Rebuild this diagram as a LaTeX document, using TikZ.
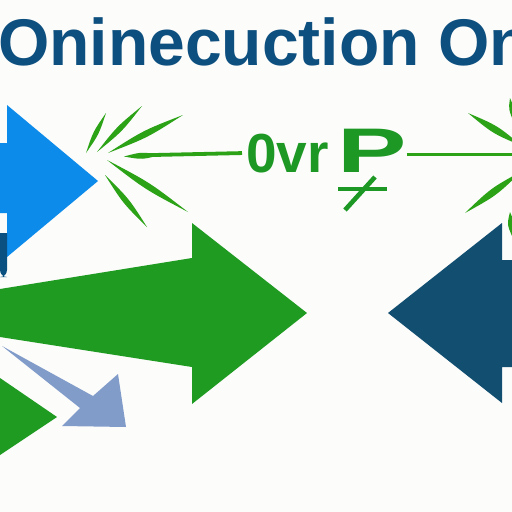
\documentclass[tikz,border=0pt]{standalone}
\usepackage{fontspec}
\setmainfont{Liberation Sans}
\usetikzlibrary{calc}

\definecolor{titleblue}{RGB}{13,79,126}
\definecolor{skyblue}{RGB}{12,139,234}
\definecolor{deepblue}{RGB}{10,80,128}
\definecolor{arrowgreen}{RGB}{31,155,34}
\definecolor{sparkgreen}{RGB}{44,163,22}
\definecolor{labelgreen}{RGB}{30,152,36}
\definecolor{steelblue}{RGB}{130,156,202}
\definecolor{navyblue}{RGB}{18,78,112}
\definecolor{paper}{RGB}{252,252,251}

\begin{document}
\begin{tikzpicture}[
  x=1pt,y=-1pt,
  title/.style={font=\fontsize{66}{66}\selectfont\bfseries,text=titleblue,
                anchor=base west,inner sep=0pt},
  lbl/.style={font=\fontsize{55}{55}\selectfont\bfseries,text=labelgreen,
              anchor=base west,inner sep=0pt},
  bigarrow/.style={fill=arrowgreen},
  spark/.style={fill=sparkgreen},
  wire/.style={draw=sparkgreen,line width=3.8pt},
  slashline/.style={draw=labelgreen,line width=4.6pt},
]

% ---- frame ----
\fill[paper] (0,0) rectangle (512,512);
\useasboundingbox (0,0) rectangle (512,512);
\clip (0,0) rectangle (512,512);

% ---- left: light blue arrow and the dark piece under it ----
\fill[skyblue] (0,143) -- (7,143) -- (7,105) -- (98,181) -- (7,257)
     -- (7,213) -- (0,213) -- cycle;
\fill[deepblue] (0,233) -- (7,233) [rounded corners=7pt] -- (7,277)
     -- (0,277) [sharp corners] -- cycle;

% ---- big green arrow, small green head, steel arrow ----
\fill[bigarrow] (0,289) -- (192,258) -- (192,223) -- (307,313)
     -- (192,404) -- (192,367) -- (0,337) -- cycle;
\fill[bigarrow] (0,378) -- (57,417) -- (0,455) -- cycle;
\fill[steelblue] (2,346) -- (93,396) -- (118,374) -- (126,427)
     -- (62,426) -- (80,408) -- cycle;

% ---- right: navy arrow pointing left ----
\fill[navyblue] (512,260) -- (502,260) -- (502,223) -- (388,313)
     -- (502,403) -- (502,367) -- (512,367) -- cycle;

% ---- title ----
\node[title] (title) at (-2,65) {Oninecuction On};

% ---- middle label with its crossed stroke ----
\node[lbl] (ovr) at (246,172) {0vr};
\node[lbl,font=\fontsize{63}{63}\selectfont\bfseries] (lblP) at (337,172)
     {\scalebox{1.65}[1]{P}};
\draw[slashline] (338,189) -- (387,189);
\draw[slashline] (345,210) -- (375,177);

% ---- sparks: tapered strokes around both hubs ----
\foreach \ax/\ay/\bx/\by/\w in {86/153/106/113/3.2, 97/152/142/106/3.6,
    108/153/183/115/4.2, 107/160/188/212/4.2, 105/175/147/227/3.8,
    124/156.5/160/155/4, 468/113/522/146/4.6, 465/213/522/171/4.6,
    510/98/513/120/3, 510/212/512/236/4}
  \fill[spark] (\ax,\ay)
     .. controls ($(\ax,\ay)!.5!(\bx,\by)!\w pt!90:(\bx,\by)$) .. (\bx,\by)
     .. controls ($(\ax,\ay)!.5!(\bx,\by)!\w pt!-90:(\bx,\by)$) .. (\ax,\ay)
     -- cycle;

% wires from the hubs into the label
\coordinate (wireL) at (140,155.3);
\coordinate (wireR) at (516,154.5);
\draw[wire] (wireL) -- ([xshift=-4pt]ovr.west);
\draw[wire,line width=3.4pt] (lblP.east |- wireR) -- (wireR);

\end{tikzpicture}
\end{document}
